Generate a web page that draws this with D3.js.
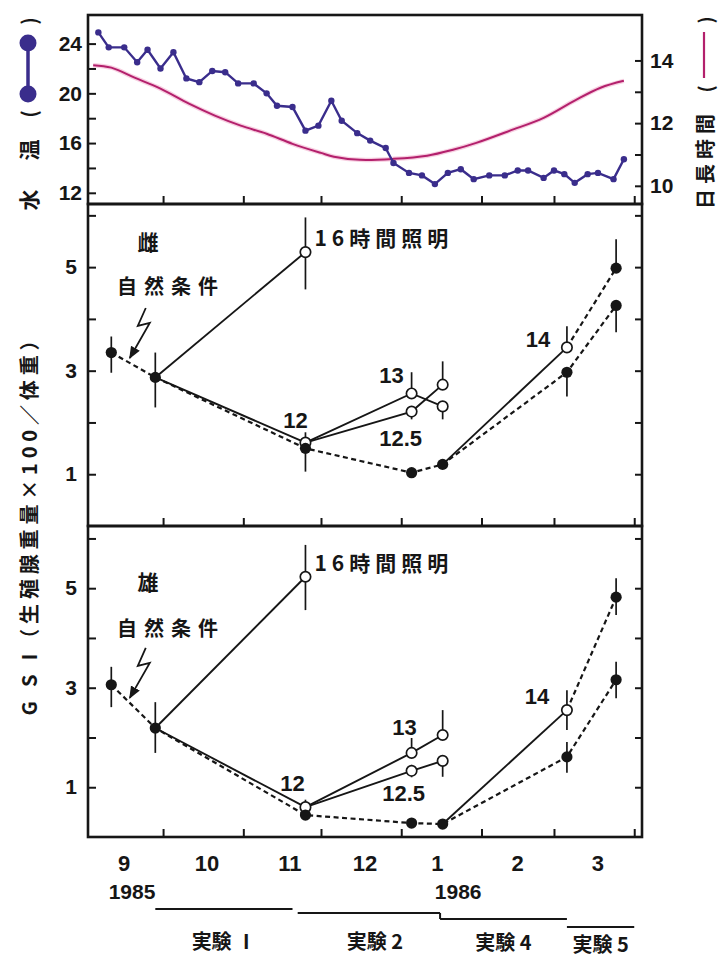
<!DOCTYPE html>
<html>
<head>
<meta charset="utf-8">
<script src="https://cdn.jsdelivr.net/npm/d3@7"></script>
<style>
  body { margin: 0; background: #fff; }
  text { font-family: "Liberation Sans", Arial, sans-serif; font-weight: bold; fill: #161616; }
  .jp { font-family: "Noto Sans CJK JP", sans-serif; font-weight: bold; }
</style>
</head>
<body>
<svg id="chart" width="722" height="959"></svg>
<script>
// water temperature (top panel, left axis)
const tempDates = ["1985-09-06","1985-09-10","1985-09-16","1985-09-21","1985-09-25","1985-09-30",
  "1985-10-05","1985-10-10","1985-10-15","1985-10-20","1985-10-25","1985-10-30","1985-11-05",
  "1985-11-10","1985-11-14","1985-11-20","1985-11-25","1985-11-30","1985-12-05","1985-12-09",
  "1985-12-15","1985-12-20","1985-12-26","1985-12-29","1986-01-04","1986-01-09","1986-01-14",
  "1986-01-19","1986-01-24","1986-01-29","1986-02-04","1986-02-10","1986-02-15","1986-02-19",
  "1986-02-25","1986-03-01","1986-03-05","1986-03-09","1986-03-14","1986-03-18","1986-03-24","1986-03-28"];
const tempValues = [24.9, 23.7, 23.7, 22.5, 23.5, 22.0, 23.3, 21.2, 20.9, 21.8, 21.7, 20.8, 20.8,
  20.0, 19.0, 18.9, 17.0, 17.4, 19.4, 17.8, 16.8, 16.2, 15.6, 14.4, 13.6, 13.4, 12.7,
  13.6, 13.9, 13.1, 13.4, 13.4, 13.8, 13.8, 13.2, 13.8, 13.5, 12.8, 13.5, 13.6, 13.1, 14.7];

// day length (top panel, right axis)
const dayDates = ["1985-09-04","1985-09-11","1985-09-20","1985-09-30","1985-10-11","1985-10-21",
  "1985-10-31","1985-11-10","1985-11-20","1985-12-01","1985-12-06","1985-12-16","1985-12-29",
  "1986-01-11","1986-01-21","1986-01-30","1986-02-12","1986-02-25","1986-03-09","1986-03-19","1986-03-28"];
const dayHours = [13.85, 13.77, 13.45, 13.10, 12.62, 12.24, 11.92, 11.66, 11.34, 11.05, 10.93,
  10.83, 10.86, 10.96, 11.15, 11.37, 11.76, 12.17, 12.72, 13.13, 13.35];

// GSI sampling dates
const natDates = ["1985-09-11","1985-09-28","1985-11-25","1986-01-05","1986-01-17","1986-03-06","1986-03-25"];
const exp1Dates = ["1985-09-28","1985-11-25"];
const exp2Dates = ["1985-11-25","1986-01-05","1986-01-17"];
const exp4Dates = ["1986-01-17","1986-03-06","1986-03-25"];

// female GSI
const femaleNat = [3.35, 2.87, 1.50, 1.03, 1.19, 2.97, 4.26];
const femaleNatErr = [[2.96, 3.66], [2.29, 3.35], [1.05, 1.5], null, null, [2.50, 3.0], [3.74, 4.3]];
const female16 = [2.87, 5.29], female16Err = [[4.57, 5.96]];
const female12 = [2.87, 1.61], female12Err = [[1.6, 1.81]];
const female13 = [1.61, 2.56, 2.31], female13Err = [[2.56, 2.97], [2.06, 2.31]];
const female125 = [1.61, 2.21, 2.73], female125Err = [[2.06, 2.21], [2.73, 3.18]];
const female14 = [1.19, 3.45, 4.98], female14Err = [[3.45, 3.86], [4.9, 5.54]];

// male GSI
const maleNat = [3.06, 2.19, 0.44, 0.28, 0.26, 1.61, 3.16];
const maleNatErr = [[2.61, 3.42], [1.69, 2.71], null, null, null, [1.29, 1.91], [2.79, 3.52]];
const male16 = [2.19, 5.23], male16Err = [[4.56, 5.87]];
const male12 = [2.19, 0.60], male12Err = [[0.6, 0.75]];
const male13 = [0.60, 1.69, 2.05], male13Err = [[1.69, 1.99], [2.05, 2.55]];
const male125 = [0.60, 1.33, 1.53], male125Err = [[1.2, 1.45], [1.21, 1.53]];
const male14 = [0.26, 2.55, 4.82], male14Err = [[2.15, 2.95], [4.46, 5.2]];

// axis labels
const monthLabels = ["9", "10", "11", "12", "1", "2", "3"];
const monthMids = ["1985-09-16","1985-10-18","1985-11-19","1985-12-18","1986-01-15","1986-02-15","1986-03-18"];
const yearLabels = ["1985", "1986"];
const yearDates = ["1985-09-19", "1986-01-23"];
const expNames = ["実験 Ⅰ", "実験 2", "実験 4", "実験 5"];
const expStart = ["1985-09-28","1985-11-22","1986-01-16","1986-03-06"];
const expEnd = ["1985-11-20","1986-01-16","1986-03-06","1986-04-01"];

const parse = d3.timeParse("%Y-%m-%d");
const svg = d3.select("#chart");
const L = 88, R = 642;
const ink = "#161616";

const x = d3.scaleTime().domain([parse("1985-09-02"), parse("1986-04-04")]).range([L, R]);
const monthStarts = d3.timeMonth.range(parse("1985-10-01"), parse("1986-04-02"));

function styleAxis(g) {
  g.select(".domain").remove();
  g.selectAll(".tick line").attr("stroke", ink).attr("stroke-width", 2);
  g.selectAll(".tick text").attr("font-size", 21).style("fill", ink);
}

function frame(top, bottom) {
  svg.append("g")
    .attr("transform", "translate(0," + bottom + ")")
    .call(d3.axisBottom(x).tickValues(monthStarts).tickSize(-8).tickSizeOuter(0).tickFormat(""))
    .call(styleAxis);
  svg.append("rect")
    .attr("x", L).attr("y", top).attr("width", R - L).attr("height", bottom - top)
    .attr("fill", "none").attr("stroke", ink).attr("stroke-width", 2.6);
}

// ---------- top panel ----------
const yT = d3.scaleLinear().domain([11.1, 26.3]).range([204, 15]);
const yD = d3.scaleLinear().domain([9.42, 15.45]).range([204, 15]);

svg.append("g").attr("transform", "translate(" + L + ",0)")
  .call(d3.axisLeft(yT).tickValues([12, 14, 16, 18, 20, 22, 24]).tickSize(-8).tickSizeOuter(0)
    .tickPadding(6).tickFormat(d => d % 4 === 0 ? d : ""))
  .call(styleAxis);
svg.append("g").attr("transform", "translate(" + R + ",0)")
  .call(d3.axisRight(yD).tickValues([10, 11, 12, 13, 14]).tickSize(-7).tickSizeOuter(0)
    .tickPadding(8).tickFormat(d => d % 2 === 0 ? d : ""))
  .call(styleAxis);
frame(15, 204);

const dayLine = d3.line().x((d, i) => x(parse(dayDates[i]))).y(d => yD(d)).curve(d3.curveCatmullRom);
svg.append("path").datum(dayHours).attr("d", dayLine)
  .attr("fill", "none").attr("stroke", "#f0a8c8").attr("stroke-width", 4.5).attr("opacity", 0.55);
svg.append("path").datum(dayHours).attr("d", dayLine)
  .attr("fill", "none").attr("stroke", "#b3206c").attr("stroke-width", 2);

const tempLine = d3.line().x((d, i) => x(parse(tempDates[i]))).y(d => yT(d));
svg.append("path").datum(tempValues).attr("d", tempLine)
  .attr("fill", "none").attr("stroke", "#3a2d8c").attr("stroke-width", 2.4);
svg.append("g").selectAll("circle").data(tempValues).join("circle")
  .attr("cx", (d, i) => x(parse(tempDates[i]))).attr("cy", d => yT(d)).attr("r", 3.2)
  .attr("fill", "#3a2d8c");

// left title: 水温 (●—●)
const lt = svg.append("g").attr("transform", "translate(28,0) rotate(-90)");
lt.append("text").attr("class", "jp").attr("x", -200).attr("y", 0).attr("font-size", 21)
  .attr("text-anchor", "middle").attr("dominant-baseline", "central").text("水");
lt.append("text").attr("class", "jp").attr("x", -150).attr("y", 0).attr("font-size", 21)
  .attr("text-anchor", "middle").attr("dominant-baseline", "central").text("温");
lt.append("text").attr("class", "jp").attr("x", -114).attr("y", 0).attr("font-size", 20)
  .attr("text-anchor", "middle").attr("dominant-baseline", "central").text("(");
lt.append("text").attr("class", "jp").attr("x", -21).attr("y", 0).attr("font-size", 20)
  .attr("text-anchor", "middle").attr("dominant-baseline", "central").text(")");
svg.append("line").attr("x1", 28).attr("x2", 28).attr("y1", 48).attr("y2", 90)
  .attr("stroke", "#3a2d8c").attr("stroke-width", 3.5);
svg.append("circle").attr("cx", 28).attr("cy", 94).attr("r", 8.5).attr("fill", "#3a2d8c");
svg.append("circle").attr("cx", 28).attr("cy", 43).attr("r", 8.5).attr("fill", "#3a2d8c");

// right title: 日長時間 (—)
const rt = svg.append("g").attr("transform", "translate(704,0) rotate(-90)");
rt.append("text").attr("class", "jp").attr("x", -209).attr("y", 0).attr("font-size", 20)
  .attr("letter-spacing", 5).attr("dominant-baseline", "central").text("日長時間");
rt.append("text").attr("class", "jp").attr("x", -89).attr("y", 0).attr("font-size", 19)
  .attr("text-anchor", "middle").attr("dominant-baseline", "central").text("(");
rt.append("text").attr("class", "jp").attr("x", -20).attr("y", 0).attr("font-size", 19)
  .attr("text-anchor", "middle").attr("dominant-baseline", "central").text(")");
svg.append("line").attr("x1", 704).attr("x2", 704).attr("y1", 32).attr("y2", 78)
  .attr("stroke", "#b3206c").attr("stroke-width", 2.2);

// ---------- GSI panels ----------
const yF = d3.scaleLinear().domain([0, 6.2]).range([526, 205]);
const yM = d3.scaleLinear().domain([0, 6.23]).range([837, 527]);

svg.append("defs").append("marker")
  .attr("id", "arrow").attr("viewBox", "0 0 10 10").attr("refX", 9).attr("refY", 5)
  .attr("markerWidth", 7).attr("markerHeight", 7).attr("orient", "auto")
  .append("path").attr("d", "M0,1 L10,5 L0,9 Z").attr("fill", ink);

function gsiPanel(y, top, bottom, sex, nat, natErr, s16, e16, s12, e12, s13, e13, s125, e125, s14, e14, lab) {
  svg.append("g").attr("transform", "translate(" + L + ",0)")
    .call(d3.axisLeft(y).tickValues([1, 2, 3, 4, 5, 6]).tickSize(-8).tickSizeOuter(0)
      .tickPadding(11).tickFormat(d => d % 2 === 1 ? d : ""))
    .call(styleAxis);
  svg.append("g").attr("transform", "translate(" + R + ",0)")
    .call(d3.axisRight(y).tickValues([1, 2, 3, 4, 5, 6]).tickSize(-7).tickSizeOuter(0).tickFormat(""))
    .call(styleAxis);
  frame(top, bottom);

  const g = svg.append("g");
  const line = dates => d3.line().x((d, i) => x(parse(dates[i]))).y(d => y(d));
  const solid = (p) => p.attr("fill", "none").attr("stroke", ink).attr("stroke-width", 1.9);
  const dashed = (p) => solid(p).attr("stroke-dasharray", "5,3.5").attr("stroke-width", 2.2);

  // lines
  g.append("path").datum(nat).attr("d", line(natDates)).call(dashed);
  g.append("path").datum(s16).attr("d", line(exp1Dates)).call(solid);
  g.append("path").datum(s12).attr("d", line(exp1Dates)).call(solid);
  g.append("path").datum(s13).attr("d", line(exp2Dates)).call(solid);
  g.append("path").datum(s125).attr("d", line(exp2Dates)).call(solid);
  g.append("path").datum(s14.slice(0, 2)).attr("d", line(exp4Dates.slice(0, 2))).call(solid);
  g.append("path").datum(s14.slice(1)).attr("d", line(exp4Dates.slice(1))).call(dashed);

  // error bars
  const bars = [];
  natErr.forEach((e, i) => { if (e) bars.push([natDates[i], e]); });
  e16.forEach((e, i) => bars.push([exp1Dates[i + 1], e]));
  e12.forEach((e, i) => bars.push([exp1Dates[i + 1], e]));
  e13.forEach((e, i) => bars.push([exp2Dates[i + 1], e]));
  e125.forEach((e, i) => bars.push([exp2Dates[i + 1], e]));
  e14.forEach((e, i) => bars.push([exp4Dates[i + 1], e]));
  g.selectAll(".err").data(bars).join("line")
    .attr("x1", d => x(parse(d[0]))).attr("x2", d => x(parse(d[0])))
    .attr("y1", d => y(d[1][0])).attr("y2", d => y(d[1][1]))
    .attr("stroke", ink).attr("stroke-width", 1.7);

  // markers
  const open = [
    [exp1Dates[1], s16[1]], [exp1Dates[1], s12[1]],
    [exp2Dates[1], s13[1]], [exp2Dates[2], s13[2]],
    [exp2Dates[1], s125[1]], [exp2Dates[2], s125[2]],
    [exp4Dates[1], s14[1]]
  ];
  const filled = natDates.map((d, i) => [d, nat[i]]).concat([[exp4Dates[2], s14[2]]]);
  g.selectAll(".open").data(open).join("circle")
    .attr("cx", d => x(parse(d[0]))).attr("cy", d => y(d[1])).attr("r", 5.2)
    .attr("fill", "#fff").attr("stroke", ink).attr("stroke-width", 1.7);
  g.selectAll(".filled").data(filled).join("circle")
    .attr("cx", d => x(parse(d[0]))).attr("cy", d => y(d[1])).attr("r", 5.6)
    .attr("fill", ink);

  // annotations
  const px = (date, v, dx, dy) => [x(parse(date)) + dx, y(v) + dy];
  const txt = (p, s, size, cls, anchor) => svg.append("text").attr("class", cls || null)
    .attr("x", p[0]).attr("y", p[1]).attr("font-size", size)
    .attr("text-anchor", anchor || "middle").attr("dominant-baseline", "central").text(s);

  txt([148, y(lab.sexAt)], sex, 21, "jp");
  txt([117, y(lab.natAt)], "自然条件", 20, "jp", "start").attr("letter-spacing", 7);
  txt(px(exp1Dates[1], s16[1], 9, -15), "16時間照明", 21, "jp", "start").attr("letter-spacing", 5);
  txt(px(exp1Dates[1], s12[1], lab.d12[0], lab.d12[1]), "12", 22);
  txt(px(exp2Dates[1], s13[1], lab.d13[0], lab.d13[1]), "13", 22);
  txt(px(exp2Dates[1], s125[1], lab.d125[0], lab.d125[1]), "12.5", 22);
  txt(px(exp4Dates[1], s14[1], lab.d14[0], lab.d14[1]), "14", 22);

  // lightning arrow onto the natural-condition line
  const t = 0.42;
  const tx = x(parse(natDates[0])) + t * (x(parse(natDates[1])) - x(parse(natDates[0])));
  const ty = y(nat[0]) + t * (y(nat[1]) - y(nat[0])) - 5;
  svg.append("path")
    .attr("d", "M" + (tx + 16) + "," + (ty - 50) + " L" + (tx + 8) + "," + (ty - 32) +
      " L" + (tx + 20) + "," + (ty - 35) + " L" + tx + "," + ty)
    .attr("fill", "none").attr("stroke", ink).attr("stroke-width", 1.8)
    .attr("marker-end", "url(#arrow)");
}

gsiPanel(yF, 204, 526, "雌", femaleNat, femaleNatErr, female16, female16Err, female12, female12Err,
  female13, female13Err, female125, female125Err, female14, female14Err,
  { sexAt: 5.5, natAt: 4.65, d12: [-10, -22], d13: [-20, -18], d125: [-11, 27], d14: [-29, -8] });
gsiPanel(yM, 526, 837, "雄", maleNat, maleNatErr, male16, male16Err, male12, male12Err,
  male13, male13Err, male125, male125Err, male14, male14Err,
  { sexAt: 5.14, natAt: 4.22, d12: [-13, -24], d13: [-7, -25], d125: [-8, 23], d14: [-30, -14] });

// y title
svg.append("g").attr("transform", "translate(28,523) rotate(-90)")
  .append("text").attr("class", "jp").attr("font-size", 20).attr("text-anchor", "middle")
  .attr("dominant-baseline", "central").attr("textLength", 385).attr("lengthAdjust", "spacing")
  .text("G S I（生殖腺重量×100／体重）");

// month and year labels
svg.append("g").selectAll("text").data(monthLabels).join("text")
  .attr("x", (d, i) => x(parse(monthMids[i]))).attr("y", 871)
  .attr("text-anchor", "middle").attr("font-size", 22).text(d => d);
svg.append("g").selectAll("text").data(yearLabels).join("text")
  .attr("x", (d, i) => x(parse(yearDates[i]))).attr("y", 899)
  .attr("text-anchor", "middle").attr("font-size", 21).text(d => d);

// experiment periods
const expRows = [909, 913, 919, 927];
const expLabelY = [949, 949, 950, 952];
svg.append("g").selectAll("line").data(expNames).join("line")
  .attr("x1", (d, i) => x(parse(expStart[i]))).attr("x2", (d, i) => x(parse(expEnd[i])))
  .attr("y1", (d, i) => expRows[i]).attr("y2", (d, i) => expRows[i])
  .attr("stroke", ink).attr("stroke-width", 2);
svg.append("line")
  .attr("x1", x(parse(expStart[2]))).attr("x2", x(parse(expStart[2])))
  .attr("y1", expRows[1]).attr("y2", expRows[2]).attr("stroke", ink).attr("stroke-width", 2);
svg.append("g").selectAll("text").data(expNames).join("text")
  .attr("class", "jp")
  .attr("x", (d, i) => (x(parse(expStart[i])) + x(parse(expEnd[i]))) / 2 + (i === 1 ? 6 : 0))
  .attr("y", (d, i) => expLabelY[i])
  .attr("text-anchor", "middle").attr("font-size", 20).text(d => d);
</script>
</body>
</html>
